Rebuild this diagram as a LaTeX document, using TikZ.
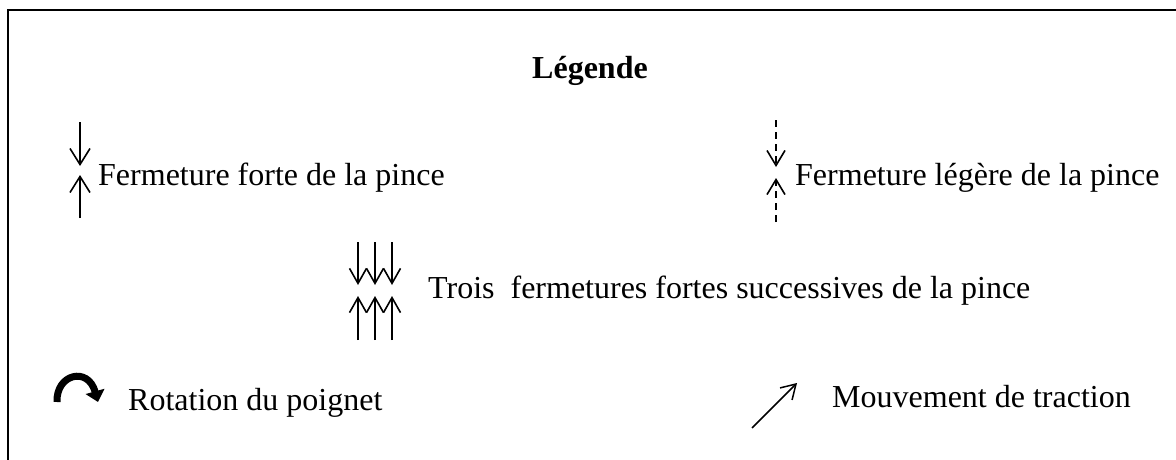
\documentclass[tikz,border=0pt]{standalone}
\usepackage{fontspec}
\setmainfont{Liberation Serif}
\usetikzlibrary{arrows.meta}
\begin{document}
\begin{tikzpicture}[x=1pt, y=-1pt,
  font=\fontsize{32}{38}\selectfont,
  lbl/.style={anchor=base west, inner sep=0pt},
  pinch/.style={line width=1.6pt, line join=miter,
    -{Straight Barb[length=16pt, width=20pt]}},
  smallpinch/.style={line width=1.6pt, line join=miter,
    -{Straight Barb[length=15pt, width=17pt]}},
  lightpinch/.style={line width=1.6pt, dash pattern=on 7pt off 5pt,
    -{Straight Barb[length=15pt, width=18pt]}},
  pull/.style={line width=1.5pt,
    -{Straight Barb[length=14pt, width=17pt]}},
  twist/.style={line width=7pt,
    -{Triangle[length=11pt, width=19pt]}}]
\useasboundingbox (0,0) rectangle (1176,460);
\clip (0,0) rectangle (1176,460);

% frame
\draw[line width=2pt] (8,500) -- (8,10) -- (1220,10);

% title
\node[anchor=base, inner sep=0pt, font=\fontsize{32}{38}\selectfont\bfseries] (title) at (590,79) {Légende};

% strong closure
\coordinate (s1a) at (80,122);  \coordinate (s1b) at (80,166);
\coordinate (s2a) at (80,218);  \coordinate (s2b) at (80,175);
\draw[pinch] (s1a) -- (s1b);
\draw[pinch] (s2a) -- (s2b);
\node[lbl] (strong) at (98,185) {Fermeture forte de la pince};

% light closure
\coordinate (l1a) at (776,120); \coordinate (l1b) at (776,167);
\coordinate (l2a) at (776,222); \coordinate (l2b) at (776,178);
\draw[lightpinch] (l1a) -- (l1b);
\draw[lightpinch] (l2a) -- (l2b);
\node[lbl] (light) at (795,185) {Fermeture légère de la pince};

% three successive strong closures
\foreach \x in {358,375,392} {
  \draw[smallpinch] (\x,242) -- (\x,285);
  \draw[smallpinch] (\x,340) -- (\x,296);
}
\node[lbl] (three) at (428,298) {Trois\ \ fermetures fortes successives de la pince};

% wrist rotation
\draw[twist] (57,402) .. controls (56,374) and (88,366) .. (98,402);
\node[lbl] (wrist) at (128,410) {Rotation du poignet};

% traction movement
\coordinate (t1) at (752,428); \coordinate (t2) at (797,383);
\draw[pull] (t1) -- (t2);
\node[lbl] (traction) at (832,407) {Mouvement de traction};
\end{tikzpicture}
\end{document}
